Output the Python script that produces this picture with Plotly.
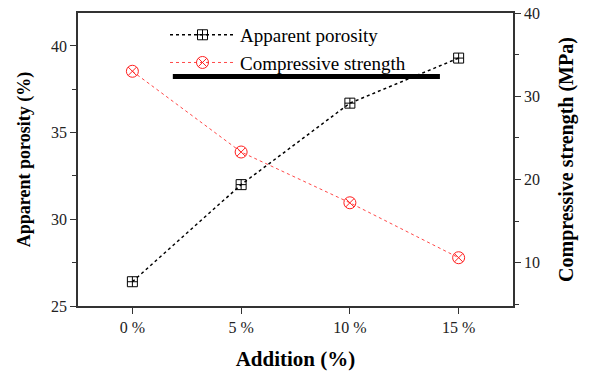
import plotly.graph_objects as go

categories = ["0 %", "5 %", "10 %", "15 %"]
porosity = [26.4, 32.0, 36.7, 39.3]
strength = [33.0, 23.3, 17.2, 10.6]

FONT = "Liberation Serif"
AX = "#333333"

fig = go.Figure()
fig.add_trace(go.Scatter(
    x=categories, y=porosity, name="Apparent porosity", mode="lines+markers",
    line=dict(color="black", width=1.5, dash="dot"),
    marker=dict(symbol="square-cross-open", size=10, color="black", line=dict(width=1)),
))
fig.add_trace(go.Scatter(
    x=categories, y=strength, name="Compressive strength", mode="lines+markers",
    yaxis="y2",
    line=dict(color="#ff4848", width=1, dash="dot"),
    marker=dict(symbol="circle-x-open", size=12, color="#ff2020", line=dict(width=1)),
))

axis_common = dict(
    showline=True, linecolor=AX, linewidth=1.5, showgrid=False, zeroline=False,
    ticks="outside", ticklen=6, tickcolor=AX, automargin=False,
    tickfont=dict(family=FONT, size=16, color="#222"),
)

fig.update_layout(
    width=590, height=378,
    margin=dict(l=78, r=77, t=13, b=72, autoexpand=False),
    paper_bgcolor="white", plot_bgcolor="white",
    font=dict(family=FONT, color="black"),
    showlegend=True,
    legend=dict(x=0.2, y=0.99, xanchor="left", yanchor="top",
                bgcolor="rgba(0,0,0,0)", font=dict(family=FONT, size=19),
                tracegroupgap=0, itemwidth=65),
    xaxis=dict(
        **axis_common, range=[-0.5, 3.5], mirror=True,
        title=dict(text="<b>Addition (%)</b>", font=dict(family=FONT, size=21), standoff=16),
    ),
    yaxis=dict(
        **axis_common, range=[25, 41.9], dtick=5, tick0=25,
        minor=dict(ticks="outside", ticklen=4, dtick=2.5, tickcolor=AX),
        title=dict(text="<b>Apparent porosity (%)</b>", font=dict(family=FONT, size=18), standoff=16),
    ),
    yaxis2=dict(
        **axis_common, range=[4.8, 40], dtick=10, tick0=0, overlaying="y", side="right",
        minor=dict(ticks="outside", ticklen=4, dtick=5, tickcolor=AX),
        title=dict(text="<b>Compressive strength (MPa)</b>", font=dict(family=FONT, size=20), standoff=20),
    ),
    shapes=[dict(type="rect", xref="paper", yref="paper",
                 x0=0.218, x1=0.832, y0=0.775, y1=0.792,
                 fillcolor="black", line=dict(width=0))],
)

fig.write_html("out.html", config={"displayModeBar": False},
               post_script="document.body.style.margin='0';")
